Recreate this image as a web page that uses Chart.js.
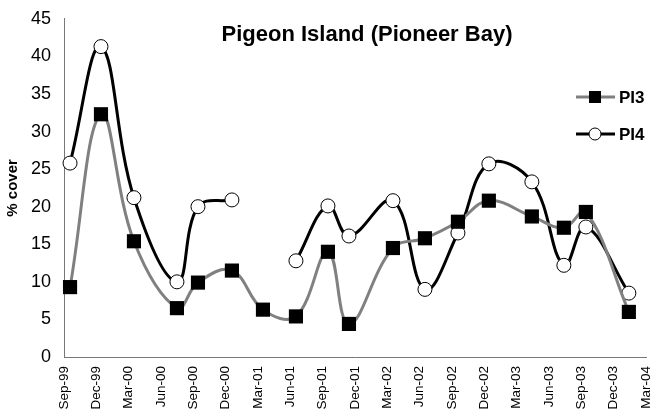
<!DOCTYPE html>
<html>
<head>
<meta charset="utf-8">
<script src="https://cdn.jsdelivr.net/npm/chart.js@4/dist/chart.umd.min.js"></script>
<style>
  html, body { margin: 0; padding: 0; background: #fff; }
  #wrap { width: 657px; height: 416px; }
</style>
</head>
<body>
<div id="wrap"><canvas id="grafica" width="657" height="416"></canvas></div>
<script>
// Datos (meses desde Sep-99)
const meses = [0.56, 3.43, 6.49, 10.48, 12.43, 15.58, 18.46, 21.52, 24.49, 26.44, 30.52, 33.49, 36.55, 39.42, 43.41, 46.38, 48.42, 52.41];
const pi3 = [9.3, 32.3, 15.4, 6.5, 9.9, 11.5, 6.3, 5.4, 14.0, 4.4, 14.5, 15.8, 18.0, 20.8, 18.7, 17.2, 19.3, 6.0];
const pi4 = [25.8, 41.3, 21.2, 10.0, 20.0, 20.9, null, 12.8, 20.1, 16.1, 20.8, 9.0, 16.5, 25.7, 23.3, 12.2, 17.3, 8.5];
const etiquetas = ['Sep-99', 'Dec-99', 'Mar-00', 'Jun-00', 'Sep-00', 'Dec-00', 'Mar-01', 'Jun-01', 'Sep-01', 'Dec-01',
  'Mar-02', 'Jun-02', 'Sep-02', 'Dec-02', 'Mar-03', 'Jun-03', 'Sep-03', 'Dec-03', 'Mar-04'];
const titulo = 'Pigeon Island (Pioneer Bay)';

const fuente = "'Liberation Sans', Arial, sans-serif";

function puntos(valores) {
  return meses.map((m, i) => ({ x: m, y: valores[i] }));
}

// Titulo y leyenda dentro del area del grafico
const extras = {
  id: 'extras',
  afterDraw(chart) {
    const ctx = chart.ctx;
    ctx.save();
    ctx.fillStyle = '#000';
    ctx.font = 'bold 22px ' + fuente;
    ctx.textAlign = 'center';
    ctx.textBaseline = 'middle';
    ctx.fillText(titulo, 367, 35);

    const filas = [
      { y: 97, color: '#808080', tipo: 'rect', texto: 'PI3' },
      { y: 134, color: '#000', tipo: 'circle', texto: 'PI4' }
    ];
    filas.forEach(f => {
      ctx.strokeStyle = f.color;
      ctx.lineWidth = 3;
      ctx.beginPath();
      ctx.moveTo(576, f.y);
      ctx.lineTo(615, f.y);
      ctx.stroke();
      if (f.tipo == 'rect') {
        ctx.fillStyle = '#000';
        ctx.fillRect(589, f.y - 6, 12, 12);
      } else {
        ctx.fillStyle = '#fff';
        ctx.strokeStyle = '#000';
        ctx.lineWidth = 1;
        ctx.beginPath();
        ctx.arc(595, f.y, 6, 0, Math.PI * 2);
        ctx.fill();
        ctx.stroke();
      }
      ctx.fillStyle = '#000';
      ctx.font = 'bold 17px ' + fuente;
      ctx.textAlign = 'left';
      ctx.fillText(f.texto, 619, f.y + 1);
    });
    ctx.restore();
  }
};

const ctx = document.getElementById('grafica').getContext('2d');
const grafica = new Chart(ctx, {
  type: 'line',
  data: {
    datasets: [
      {
        label: 'PI3',
        data: puntos(pi3),
        borderColor: '#808080',
        borderWidth: 3,
        tension: 0.4,
        pointStyle: 'rect',
        pointRadius: 10,
        pointBackgroundColor: '#000',
        pointBorderColor: '#000',
        pointBorderWidth: 0
      },
      {
        label: 'PI4',
        data: puntos(pi4),
        borderColor: '#000',
        borderWidth: 3,
        tension: 0.4,
        pointStyle: 'circle',
        pointRadius: 7,
        pointBackgroundColor: '#fff',
        pointBorderColor: '#000',
        pointBorderWidth: 1
      }
    ]
  },
  options: {
    responsive: false,
    animation: false,
    clip: false,
    layout: { padding: { left: 4, right: 0, top: 17, bottom: 0 } },
    plugins: {
      legend: { display: false },
      title: { display: false },
      tooltip: { enabled: false }
    },
    scales: {
      x: {
        type: 'linear',
        min: 0,
        max: 54,
        grid: { display: false, drawTicks: true, tickLength: 5, color: '#777' },
        border: { color: '#777', width: 1 },
        afterFit: s => {
          s.height = 59;
          s.paddingLeft = 0;
          s.paddingRight = 11;
        },
        ticks: {
          stepSize: 3,
          autoSkip: false,
          minRotation: 90,
          maxRotation: 90,
          padding: 4,
          color: '#000',
          font: { family: fuente, size: 13.5 },
          callback: v => etiquetas[Math.round(v / 3)] || ''
        }
      },
      y: {
        min: 0,
        max: 45,
        grid: { display: false, drawTicks: true, tickLength: 5, color: '#777' },
        border: { color: '#777', width: 1 },
        afterFit: s => { s.width = 60; },
        title: {
          display: true,
          text: '% cover',
          color: '#000',
          font: { family: fuente, size: 15, weight: 'bold' },
          padding: 0
        },
        ticks: {
          stepSize: 5,
          padding: 8,
          color: '#000',
          font: { family: fuente, size: 18 }
        }
      }
    }
  },
  plugins: [extras]
});
</script>
</body>
</html>
